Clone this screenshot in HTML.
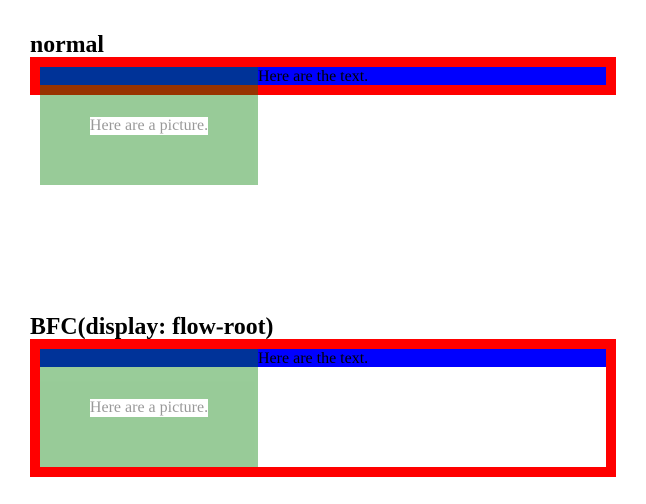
<!DOCTYPE html>
<html><head><style>
body{margin:0;width:646px;height:504px;position:relative;background:#fff;font-family:"Liberation Serif",serif;}
.h{position:absolute;left:30px;font-weight:bold;font-size:23.8px;line-height:26px;margin:0}
.red{position:absolute;left:30px;width:586px;background:#f00}
.blue{position:absolute;left:40px;width:566px;height:18px;background:#00f}
.t{position:absolute;left:258px;font-size:16px;line-height:19px;color:#000}
.g{position:absolute;left:40px;width:218px;height:118px;background:#008000;opacity:.4;display:flex;align-items:center;justify-content:center}
.g span{background:#fff;color:#000;font-size:16px;line-height:18px}
</style></head><body>
<div class="h" style="top:32px">normal</div>
<div class="red" style="top:57px;height:38px"></div>
<div class="blue" style="top:67px"></div>
<div class="t" style="top:67px">Here are the text.</div>
<div class="g" style="top:67px"><span>Here are a picture.</span></div>

<div class="h" style="top:314px">BFC(display: flow-root)</div>
<div class="red" style="top:339px;height:138px"></div>
<div style="position:absolute;left:40px;top:349px;width:566px;height:118px;background:#fff"></div>
<div class="blue" style="top:349px"></div>
<div class="t" style="top:349px">Here are the text.</div>
<div class="g" style="top:349px"><span>Here are a picture.</span></div>
</body></html>
